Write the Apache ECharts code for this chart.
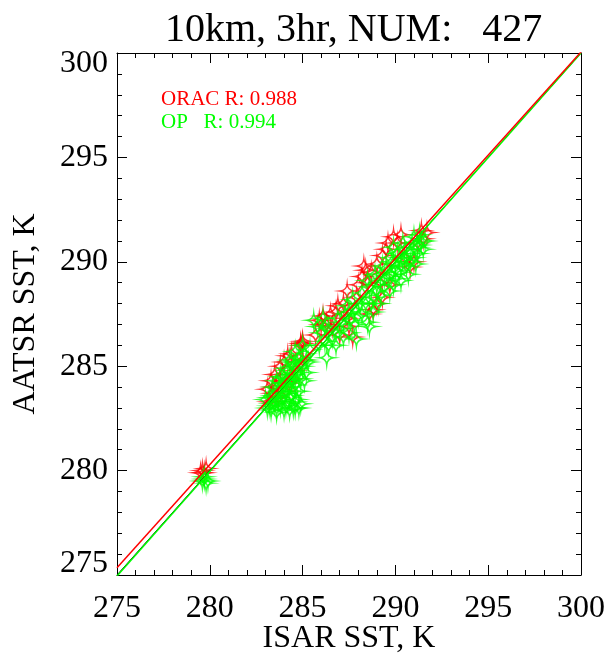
<!DOCTYPE html>
<html>
<head>
<meta charset="utf-8">
<script src="https://cdn.jsdelivr.net/npm/echarts@6/dist/echarts.min.js"></script>
<style>html,body{margin:0;padding:0;background:#fff}#c{width:608px;height:656px}</style>
</head>
<body>
<div id="c"></div>
<script>
const titleText = '10km, 3hr, NUM:   427';
const xName = 'ISAR SST, K';
const yName = 'AATSR SST, K';
const axisMin = 275, axisMax = 300, axisStep = 5;
const oracLabel = 'ORAC R: 0.988';
const opLabel = 'OP   R: 0.994';

// ORAC (red) points [ISAR, AATSR]
const oracPoints = [
  [279.6,280.0],[279.7,279.9],[279.8,280.1],[279.5,279.9],
  [283.1,283.9],[283.3,284.3],[283.5,284.6],[283.8,285.0],[284.0,285.2],[283.6,284.0],
  [283.4,283.7],[284.9,286.1],[284.9,286.0],[285.0,286.1],[284.2,285.5],[283.2,283.3],
  [283.7,283.5],[284.3,284.2],[284.6,284.8],[285.0,285.3],[284.1,283.8],[284.5,284.4],
  [283.9,284.6],[284.4,285.6],[283.4,284.0],[285.0,286.2],
  [285.9,287.2],[286.1,287.4],[286.5,287.5],[286.3,287.0],[287.2,288.0],[286.8,287.6],
  [287.0,286.5],[287.5,286.9],[287.7,286.4],[285.7,286.5],[286.6,286.9],[287.4,287.3],
  [286.0,287.0],[286.9,287.9],[287.9,288.3],
  [288.2,289.3],[288.4,289.6],[288.7,289.5],[289.0,289.9],[289.5,290.6],[289.9,291.2],
  [290.1,290.9],[290.3,291.3],[291.7,291.4],[291.5,291.1],[290.8,289.75],[291.0,290.0],
  [288.8,287.7],[288.6,287.5],[289.3,288.3],[289.7,288.9],[290.5,290.2],[289.2,289.0],
  [288.0,288.9],[287.4,288.6],[288.5,289.0],[288.3,289.8],[289.3,290.3],[289.6,290.9],
  [291.4,291.5],[291.2,290.9],[289.0,288.0]
];
// OP (green) points [ISAR, AATSR]
const opPoints = [
  [279.6,279.5],[279.7,279.7],[279.8,279.4],[279.7,279.6],[279.9,279.5],
  [283.1,283.0],[283.3,282.9],[283.5,283.2],[283.6,282.8],[283.8,283.1],[284.0,282.9],
  [284.2,283.3],[284.5,283.0],[284.4,283.6],[283.4,283.6],[283.7,283.8],[283.9,284.2],
  [284.1,283.7],[284.3,284.0],[284.6,284.1],[284.8,283.8],[284.0,284.5],[284.2,284.8],
  [284.5,284.6],[284.7,284.9],[284.9,284.4],[285.0,285.0],[284.4,285.2],[284.8,285.4],
  [285.1,285.6],[285.3,285.2],[285.2,284.7],[283.2,283.5],[283.0,283.4],[283.6,284.3],
  [284.3,285.3],[284.6,285.7],[285.0,286.0],[285.4,285.8],[284.7,283.4],[284.9,283.2],
  [285.1,284.3],[283.9,283.4],[284.1,284.2],[284.6,283.3],[284.6,283.0],
  [283.3,283.2],[283.5,283.5],[283.7,283.3],[283.9,283.7],[284.1,283.1],[284.3,283.5],
  [284.5,283.8],[284.2,284.4],[284.4,284.3],[284.0,284.0],[283.8,284.5],[284.6,284.4],
  [284.8,284.7],[284.9,285.1],[284.5,285.0],[284.7,285.2],[283.4,284.0],[283.2,283.1],
  [283.6,283.0],[284.3,282.9],[284.8,283.0],[285.2,285.3],[284.1,284.9],
  [285.6,287.2],[285.8,286.9],[286.0,286.6],[286.2,286.2],[286.4,286.8],[286.3,285.4],
  [286.6,286.4],[286.8,286.0],[287.0,286.8],[287.2,286.4],[287.5,286.6],[287.9,286.3],
  [287.6,287.2],[287.3,287.5],[287.8,287.7],[288.0,287.4],[288.5,287.1],[286.9,287.3],
  [286.1,287.3],[285.9,286.0],[287.4,287.9],[288.1,288.0],[287.7,288.2],
  [286.4,286.0],[286.7,286.7],[287.1,287.1],[287.8,287.0],[286.2,286.9],[287.5,287.6],
  [288.2,287.5],
  [288.2,288.5],[288.4,288.0],[288.6,286.9],[288.6,288.8],[288.8,288.3],[289.0,288.9],
  [289.2,288.4],[289.4,289.2],[289.7,288.6],[289.5,289.7],[289.8,289.4],[290.0,289.9],
  [290.2,289.5],[290.4,290.1],[290.6,289.8],[290.8,290.4],[291.0,290.2],[291.2,290.7],
  [291.4,291.0],[291.6,291.0],[291.3,291.3],[290.9,290.9],[290.5,290.6],[290.1,290.4],
  [289.7,290.2],[289.3,289.8],[288.9,289.4],[288.5,289.1],[290.3,289.1],[290.7,289.4],
  [291.1,289.9],[289.9,288.9],[289.1,288.0],[288.8,287.6],[291.5,290.6],[290.4,290.9],
  [289.9,290.7],[291.0,291.2],
  [289.0,288.6],[289.4,288.8],[289.6,289.3],[290.0,289.6],[290.3,289.8],[290.6,290.2],
  [290.8,290.0],[291.2,290.4],[289.2,289.4],[289.8,290.0],[290.2,290.2],[288.7,288.0],
  [291.3,290.8],[290.0,289.2]
];
// fitted lines (end points in data units)
const oracFit = [[275, 275.35], [300, 300.05]];
const opFit = [[275, 274.95], [300, 300.0]];
const oneToOne = [[275, 275], [300, 300]];

const serif = '"Liberation Serif", "Times New Roman", serif';
const RED = '#ff0000', GREEN = '#00ff00';
const starPath = 'path://M10,0 Q11,9 20,10 Q11,11 10,20 Q9,11 0,10 Q9,9 10,0 Z';

function axisCommon(pos, showLabel) {
  return {
    type: 'value', min: axisMin, max: axisMax, interval: axisStep, position: pos,
    axisLine: {show: true, onZero: false, lineStyle: {color: '#000', width: 1}},
    axisTick: {show: true, inside: true, length: 10, lineStyle: {color: '#000'}},
    minorTick: {show: true, splitNumber: 5, length: 5, lineStyle: {color: '#000'}},
    splitLine: {show: false}, minorSplitLine: {show: false},
    axisLabel: {show: showLabel, color: '#000', fontFamily: serif, fontSize: 32}
  };
}
const xb = axisCommon('bottom', true);
xb.axisLabel.margin = 18;
xb.name = xName; xb.nameLocation = 'middle'; xb.nameGap = 48; xb.nameMoveOverlap = false;
xb.nameTextStyle = {color: '#000', fontFamily: serif, fontSize: 32};
const xt = axisCommon('top', false);
const yl = axisCommon('left', true);
yl.axisLabel.margin = 9;
yl.axisLabel.lineHeight = 22;
yl.axisLabel.verticalAlignMinLabel = 'bottom';
yl.axisLabel.verticalAlignMaxLabel = 'top';
yl.name = yName; yl.nameLocation = 'middle'; yl.nameGap = 75; yl.nameMoveOverlap = false;
yl.nameTextStyle = {color: '#000', fontFamily: serif, fontSize: 32};
const yr = axisCommon('right', false);

const chart = echarts.init(document.getElementById('c'), null, {renderer: 'canvas'});
chart.setOption({
  animation: false,
  backgroundColor: '#fff',
  title: [
    {text: titleText, left: 160, top: 5, textStyle: {fontFamily: serif, fontSize: 40, fontWeight: 'normal', color: '#000'}},
    {text: oracLabel, left: 156, top: 84, textStyle: {fontFamily: serif, fontSize: 21, fontWeight: 'normal', color: RED}},
    {text: opLabel, left: 156, top: 107, textStyle: {fontFamily: serif, fontSize: 21, fontWeight: 'normal', color: GREEN}}
  ],
  grid: {left: 117, right: 27, top: 53, bottom: 81, containLabel: false, outerBoundsMode: 'none'},
  xAxis: [xb, xt],
  yAxis: [yl, yr],
  series: [
    {type: 'scatter', name: 'ORAC', data: oracPoints, symbol: starPath, symbolSize: 14,
     itemStyle: {color: 'rgba(0,0,0,0)', borderColor: RED, borderWidth: 1.5}, z: 2},
    {type: 'scatter', name: 'OP', data: opPoints, symbol: starPath, symbolSize: 14,
     itemStyle: {color: 'rgba(0,0,0,0)', borderColor: GREEN, borderWidth: 1.5}, z: 3},
    {type: 'line', data: oneToOne, symbol: 'none', lineStyle: {color: '#000', width: 1}, z: 4, clip: true},
    {type: 'line', data: opFit, symbol: 'none', lineStyle: {color: GREEN, width: 1.5}, z: 5, clip: true},
    {type: 'line', data: oracFit, symbol: 'none', lineStyle: {color: RED, width: 1.5}, z: 6, clip: true}
  ]
});
</script>
</body>
</html>
